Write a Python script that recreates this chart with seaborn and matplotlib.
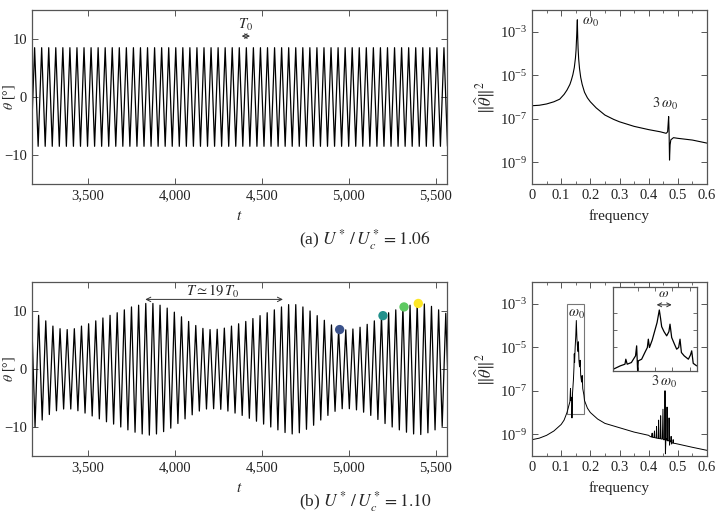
import numpy as np
import matplotlib
matplotlib.use("Agg")
import matplotlib.pyplot as plt
import seaborn as sns
from matplotlib.ticker import FuncFormatter, FixedLocator, NullLocator, MultipleLocator
from matplotlib.patches import Rectangle

# ---- (a) U*/Uc* = 1.06 : time signal, constant amplitude ----
period_a = 40.56
first_peak_a = 3195.0
amp_a = 8.5
n_cycles_a = 60

# ---- (b) U*/Uc* = 1.10 : beating signal, extrema read per cycle ----
period_b = 41.05
first_peak_b = 3177.0      # peak times: first_peak_b + k*period_b
first_trough_b = 3197.5    # trough times: first_trough_b + k*period_b
peaks_b = [9.9,
           9.25, 8.3, 7.4, 6.95, 6.8, 6.95, 7.4, 7.8, 8.3,
           8.8, 9.25, 9.7, 10.2, 10.7, 11.0, 11.3, 11.3, 11.0, 10.5,
           9.8, 9.0, 8.2, 7.5, 7.0, 6.8, 6.85, 7.05, 7.4, 7.8,
           8.2, 8.7, 9.2, 9.7, 10.2, 10.7, 11.1, 11.1, 10.7, 10.0,
           9.2, 8.4, 7.6, 6.9, 6.75, 6.9, 7.2, 7.7, 8.3, 9.1,
           9.7, 10.2, 10.7, 11.0, 11.3, 11.2, 10.8, 10.2, 9.6]
troughs_b = [-10.0, -8.8, -7.85, -7.2, -6.9, -6.9, -7.2, -7.6, -8.1, -8.6,
             -9.1, -9.5, -10.0, -10.5, -10.9, -11.2, -11.4, -11.2, -10.8, -10.2,
             -9.4, -8.6, -7.9, -7.25, -6.9, -6.85, -6.95, -7.25, -7.6, -8.0,
             -8.5, -9.0, -9.5, -10.0, -10.5, -10.95, -11.2, -11.0, -10.4, -9.7,
             -8.8, -8.0, -7.3, -6.85, -6.85, -7.05, -7.45, -8.0, -8.7, -9.4,
             -10.0, -10.5, -10.9, -11.2, -11.3, -11.0, -10.5, -9.9, -9.3]

# snapshot markers on (b)
marker_t = [4948, 5197, 5318, 5400]
marker_theta = [6.8, 9.2, 10.7, 11.3]
marker_colors = ["#3b528b", "#21918c", "#5ec962", "#fde725"]

# ---- spectra (frequency, log10 |theta_hat|^2) ----
freq_a = [0.000, 0.025, 0.050, 0.075, 0.095, 0.110, 0.120, 0.130, 0.135, 0.140,
          0.145, 0.149, 0.151, 0.153, 0.154, 0.1555, 0.156, 0.157, 0.158, 0.160,
          0.163, 0.167, 0.172, 0.180, 0.190, 0.200, 0.220, 0.250, 0.280, 0.300,
          0.350, 0.400, 0.440, 0.460, 0.465, 0.467, 0.4685, 0.470, 0.4715, 0.4735,
          0.476, 0.485, 0.500, 0.550, 0.600]
logpsd_a = [-6.40, -6.38, -6.32, -6.22, -6.10, -5.88, -5.68, -5.42, -5.22, -4.98,
            -4.65, -4.20, -3.85, -3.25, -2.90, -2.45, -2.80, -3.35, -3.75, -4.25,
            -4.70, -5.10, -5.42, -5.78, -6.04, -6.22, -6.50, -6.83, -7.03, -7.14,
            -7.35, -7.50, -7.60, -7.67, -7.60, -7.20, -6.90, -7.60, -8.90, -8.20,
            -7.97, -7.87, -7.90, -7.98, -8.12]

freq_b = [0.000, 0.025, 0.050, 0.075, 0.100, 0.110, 0.120, 0.126, 0.130, 0.132,
          0.133, 0.136, 0.137, 0.139, 0.142, 0.144, 0.145, 0.146, 0.148, 0.150,
          0.152, 0.154, 0.156, 0.158, 0.159, 0.161, 0.163, 0.165, 0.167, 0.170,
          0.172, 0.174, 0.178, 0.180, 0.190, 0.200, 0.225, 0.250, 0.300, 0.350,
          0.400, 0.405, 0.410, 0.412, 0.413, 0.418, 0.420, 0.421, 0.426, 0.427,
          0.428, 0.433, 0.434, 0.4355, 0.440, 0.441, 0.4425, 0.447, 0.449, 0.4505,
          0.455, 0.456, 0.4575, 0.459, 0.462, 0.463, 0.4645, 0.469, 0.470, 0.4715,
          0.473, 0.476, 0.477, 0.4785, 0.483, 0.484, 0.4855, 0.490, 0.500, 0.550,
          0.600]
logpsd_b = [-9.25, -9.18, -9.05, -8.85, -8.55, -8.35, -8.00, -7.70, -7.50, -6.90,
            -7.45, -7.30, -8.25, -7.10, -6.50, -5.90, -5.30, -5.70, -5.00, -4.50,
            -3.77, -4.60, -5.00, -5.20, -4.75, -5.60, -5.90, -5.60, -6.30, -6.60,
            -6.30, -6.90, -7.20, -7.45, -7.80, -8.00, -8.30, -8.50, -8.70, -8.90,
            -9.05, -9.10, -9.13, -8.95, -9.14, -9.15, -8.85, -9.16, -9.17, -8.65,
            -9.18, -9.19, -8.35, -9.20, -9.20, -8.15, -9.22, -9.22, -7.85, -9.25,
            -9.25, -7.00, -9.90, -9.20, -9.27, -7.75, -9.30, -9.30, -8.25, -9.50,
            -9.30, -9.35, -9.10, -9.45, -9.37, -9.25, -9.42, -9.42, -9.45, -9.60,
            -9.74]

# zoomed spectrum shown in the inset of (b)
freq_in = [0.1200, 0.1250, 0.1284, 0.1290, 0.1300, 0.1330, 0.1360, 0.1368, 0.1375, 0.1380,
           0.1404, 0.1430, 0.1445, 0.1452, 0.1460, 0.1480, 0.1500, 0.1515, 0.1531, 0.1540,
           0.1548, 0.1565, 0.1584, 0.1600, 0.1608, 0.1620, 0.1640, 0.1656, 0.1670, 0.1680,
           0.1690, 0.1710, 0.1740, 0.1755, 0.1764, 0.1775, 0.1800]
logpsd_in = [-8.35, -8.15, -8.05, -7.75, -8.05, -7.95, -7.55, -6.95, -8.45, -7.85,
             -7.75, -7.30, -7.05, -6.55, -7.05, -6.60, -6.00, -5.55, -4.80, -5.30,
             -5.80, -6.10, -6.35, -6.10, -5.65, -6.45, -6.85, -7.15, -7.05, -6.55,
             -7.35, -7.55, -7.75, -7.50, -7.25, -8.00, -8.15]

sns.set_theme(style="ticks")
plt.rcParams["font.family"] = ["Liberation Serif", "DejaVu Serif"]
plt.rcParams["mathtext.fontset"] = "stix"
plt.rcParams["axes.edgecolor"] = "#555555"
plt.rcParams["axes.linewidth"] = 0.9
plt.rcParams["axes.unicode_minus"] = True

fig = plt.figure(figsize=(7.16, 5.15), dpi=100)
W, H = 716.0, 515.0


def add_axes(x0, y0, x1, y1):
    return fig.add_axes([x0 / W, 1 - y1 / H, (x1 - x0) / W, (y1 - y0) / H])


def style_axes(ax):
    ax.tick_params(which="both", direction="in", top=True, right=True,
                   colors="#555555", labelcolor="#222222", labelsize=10.5)
    ax.tick_params(which="major", length=4, width=0.7)
    ax.tick_params(which="minor", length=2.5, width=0.6)


def time_axes(ax):
    ax.set_xlim(3180, 5565)
    ax.set_ylim(-15, 15)
    ax.xaxis.set_major_locator(FixedLocator([3500, 4000, 4500, 5000, 5500]))
    ax.xaxis.set_major_formatter(FuncFormatter(lambda v, p: f"{v:,.0f}"))
    ax.yaxis.set_major_locator(FixedLocator([-10, 0, 10]))
    ax.yaxis.set_major_formatter(FuncFormatter(lambda v, p: f"{v:.0f}".replace("-", "\u2212")))
    ax.set_xlabel("$t$", fontsize=11, labelpad=6)
    ax.set_ylabel("")
    style_axes(ax)


def spec_axes(ax):
    ax.set_yscale("log")
    ax.set_xlim(0, 0.6)
    ax.set_ylim(1e-10, 1e-2)
    ax.xaxis.set_major_locator(MultipleLocator(0.1))
    ax.xaxis.set_minor_locator(MultipleLocator(0.05))
    ax.xaxis.set_major_formatter(FuncFormatter(lambda v, p: "0" if abs(v) < 1e-9 else f"{v:.1f}"))
    ax.yaxis.set_major_locator(FixedLocator([1e-9, 1e-7, 1e-5, 1e-3]))
    ax.yaxis.set_minor_locator(NullLocator())
    ax.set_xlabel("frequency", fontsize=11, labelpad=5)
    ax.set_ylabel(r"$\|\widehat{\theta}\|^2$", fontsize=12, labelpad=2)
    style_axes(ax)


# ---------------- (a) time signal ----------------
ax1 = add_axes(32, 10, 447, 184)
k_a = np.arange(n_cycles_a)
t_peaks_a = first_peak_a + period_a * k_a
t_troughs_a = t_peaks_a - period_a / 2
t_a = np.ravel(np.column_stack([t_troughs_a, t_peaks_a]))
th_a = np.ravel(np.column_stack([np.full(n_cycles_a, -amp_a), np.full(n_cycles_a, amp_a)]))
sns.lineplot(x=t_a, y=th_a, ax=ax1, color="black", lw=0.9, estimator=None, sort=False)
time_axes(ax1)
ax1.annotate("", xy=(4385, 10.5), xytext=(4433, 10.5),
             arrowprops=dict(arrowstyle="<->", lw=0.7, color="#333333",
                             shrinkA=0, shrinkB=0, mutation_scale=8))
ax1.text(4409, 12.4, "$T_0$", ha="center", va="center", fontsize=10.5)

# ---------------- (a) spectrum ----------------
ax2 = add_axes(532, 10, 707, 184)
sns.lineplot(x=freq_a, y=10 ** np.array(logpsd_a), ax=ax2, color="black",
             lw=0.8, estimator=None, sort=False)
spec_axes(ax2)
ax2.text(0.17, 10 ** -2.55, r"$\omega_0$", ha="left", va="center", fontsize=10.5)
ax2.text(0.456, 10 ** -6.34, r"$3\,\omega_0$", ha="center", va="center", fontsize=10.5)

# ---------------- (b) time signal ----------------
ax3 = add_axes(32, 282, 447, 456)
t_peaks_b = first_peak_b + period_b * np.arange(len(peaks_b))
t_troughs_b = first_trough_b + period_b * np.arange(len(troughs_b))
t_b = np.concatenate([t_peaks_b, t_troughs_b])
th_b = np.concatenate([peaks_b, troughs_b])
order = np.argsort(t_b)
sns.lineplot(x=t_b[order], y=th_b[order], ax=ax3, color="black", lw=0.9,
             estimator=None, sort=False)
sns.scatterplot(x=marker_t, y=marker_theta, hue=marker_t, palette=marker_colors,
                s=45, edgecolor="none", legend=False, ax=ax3, zorder=5)
time_axes(ax3)
ax3.annotate("", xy=(3831, 12.0), xytext=(4622, 12.0),
             arrowprops=dict(arrowstyle="<->", lw=0.7, color="#333333",
                             shrinkA=0, shrinkB=0, mutation_scale=8))
ax3.text(4218, 13.3, r"$T\simeq 19\,T_0$", ha="center", va="center", fontsize=10.5)

# ---------------- (b) spectrum ----------------
ax4 = add_axes(532, 282, 707, 456)
sns.lineplot(x=freq_b, y=10 ** np.array(logpsd_b), ax=ax4, color="black",
             lw=0.7, estimator=None, sort=False)
spec_axes(ax4)
ax4.add_patch(Rectangle((0.119, 10 ** -8.05), 0.06, 10 ** -3 - 10 ** -8.05,
                        fill=False, edgecolor="#777777", lw=0.8))
ax4.text(0.151, 10 ** -3.5, r"$\omega_0$", ha="center", va="center", fontsize=10.5)
ax4.text(0.4526, 10 ** -6.61, r"$3\,\omega_0$", ha="center", va="center", fontsize=10.5)

# inset
ax5 = add_axes(613.3, 287.3, 696.7, 370.7)
sns.lineplot(x=freq_in, y=10 ** np.array(logpsd_in), ax=ax5, color="black",
             lw=0.9, estimator=None, sort=False)
ax5.set_yscale("log")
ax5.set_xlim(0.12, 0.18)
ax5.set_ylim(10 ** -8.44, 10 ** -3.44)
ax5.xaxis.set_major_locator(FixedLocator([0.1375, 0.15, 0.1625, 0.175]))
ax5.yaxis.set_major_locator(FixedLocator([1e-7, 1e-6, 1e-5]))
ax5.yaxis.set_minor_locator(NullLocator())
ax5.set_xticklabels([])
ax5.set_yticklabels([])
ax5.set_xlabel("")
ax5.set_ylabel("")
ax5.tick_params(which="both", direction="in", top=True, right=True,
                colors="#555555", length=3, width=0.6)
ax5.annotate("", xy=(0.52, 0.79), xytext=(0.70, 0.79), xycoords="axes fraction",
             arrowprops=dict(arrowstyle="<->", lw=0.7, color="#333333",
                             shrinkA=0, shrinkB=0, mutation_scale=7))
ax5.text(0.6, 0.92, r"$\omega$", transform=ax5.transAxes, ha="center",
         va="center", fontsize=10)

# y labels of the time plots, squeezed against the left edge
for yc in (97, 369):
    fig.text(9 / W, 1 - yc / H, r"$\theta$ [°]", rotation=90, ha="center",
             va="center", fontsize=10)

# sub captions
fig.text(365 / W, 1 - 240 / H, r"(a) $U^*\,/\,U_c^* = 1.06$", ha="center",
         va="center", fontsize=12.5)
fig.text(365 / W, 1 - 502 / H, r"(b) $U^*\,/\,U_c^* = 1.10$", ha="center",
         va="center", fontsize=12.5)

fig.savefig("out.png", dpi=100)
